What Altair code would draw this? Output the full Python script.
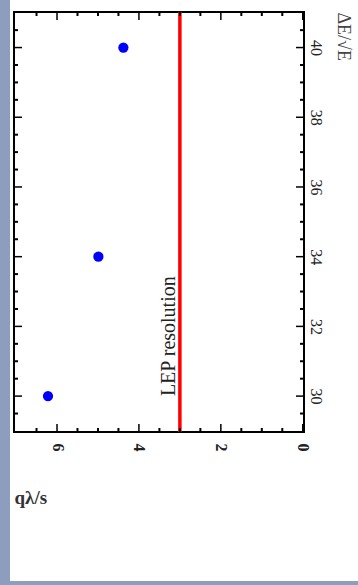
import altair as alt
import pandas as pd

# ---- data ----
de_values = [30, 34, 40]            # ΔE/√E
q_values = [6.22, 4.99, 4.38]       # qλ/s
lep_resolution = 3.0
lep_label = "LEP resolution"
lep_label_at = 30.0

x_major = [0, 2, 4, 6]
x_minor = [0.5, 1, 1.5, 2.5, 3, 3.5, 4.5, 5, 5.5, 6.5]
y_major = [30, 32, 34, 36, 38, 40]
y_minor = [29.5, 30.5, 31, 31.5, 32.5, 33, 33.5, 34.5, 35, 35.5,
           36.5, 37, 37.5, 38.5, 39, 39.5, 40.5]

X_DOMAIN = [-0.03, 7.05]
Y_DOMAIN = [28.97, 41.02]
W, H = 290, 420
SERIF = "Liberation Serif"

pts = pd.DataFrame({"q": q_values, "dE": de_values})
lep = pd.DataFrame({"q": [lep_resolution], "dE": [lep_label_at], "label": [lep_label]})

xs = alt.Scale(domain=X_DOMAIN, reverse=True, nice=False, zero=False)
ys = alt.Scale(domain=Y_DOMAIN, nice=False, zero=False)

x_axis = alt.Axis(
    orient="bottom", values=x_major, format="d", labelAngle=90, labelAlign="center",
    labelBaseline="middle", labelPadding=15, ticks=False, tickSize=0, domain=False,
    grid=False, labelFont=SERIF, labelFontSize=16, labelFontWeight="bold",
    labelColor="#222", labelFlush=False, labelOverlap=False,
    title="qλ/s", titleAngle=0, titleX=0, titleY=56, titleAlign="left",
    titleBaseline="top", titleFont=SERIF, titleFontSize=19, titleFontWeight="bold",
    titleColor="#333",
)
y_axis = alt.Axis(
    orient="right", values=y_major, format="d", labelAngle=90, labelAlign="center",
    labelBaseline="middle", labelPadding=11, ticks=False, tickSize=0, domain=False,
    grid=False, labelFont=SERIF, labelFontSize=16, labelColor="#222",
    labelFlush=False, labelOverlap=False,
    title="ΔE/√E", titleAngle=90, titleX=38, titleY=0, titleAlign="left",
    titleBaseline="middle", titleFont=SERIF, titleFontSize=18, titleFontWeight="normal",
    titleColor="#444",
)

X = lambda: alt.X("q:Q", scale=xs, axis=x_axis)
Y = lambda: alt.Y("dE:Q", scale=ys, axis=y_axis)

points = alt.Chart(pts).mark_point(
    shape="circle", filled=True, color="#0000ff", size=105, opacity=1
).encode(x=X(), y=Y())

red = alt.Chart(lep).mark_rule(color="#ff0000", strokeWidth=3.5).encode(x=X())

label = alt.Chart(lep).mark_text(
    angle=270, align="left", baseline="alphabetic", dy=-5,
    font=SERIF, fontSize=20, color="#222"
).encode(x=X(), y=Y(), text="label:N")

def xticks(vals, length, sw):
    d = pd.DataFrame({"q": vals})
    bottom = alt.Chart(d).mark_rule(color="black", strokeWidth=sw).encode(
        x=X(), y=alt.value(H), y2=alt.value(H - length))
    top = alt.Chart(d).mark_rule(color="black", strokeWidth=sw).encode(
        x=X(), y=alt.value(0), y2=alt.value(length))
    return [bottom, top]

def yticks(vals, length, sw):
    d = pd.DataFrame({"dE": vals})
    right = alt.Chart(d).mark_rule(color="black", strokeWidth=sw).encode(
        y=Y(), x=alt.value(W), x2=alt.value(W - length))
    left = alt.Chart(d).mark_rule(color="black", strokeWidth=sw).encode(
        y=Y(), x=alt.value(0), x2=alt.value(length))
    return [right, left]

one = pd.DataFrame({"k": [0]})
strip_left = alt.Chart(one).mark_rect(color="#8d9dbd", clip=False).encode(
    x=alt.value(-14), x2=alt.value(-4), y=alt.value(-12), y2=alt.value(573))
strip_bottom = alt.Chart(one).mark_rect(color="#8d9dbd", clip=False).encode(
    x=alt.value(-4), x2=alt.value(344), y=alt.value(569), y2=alt.value(573))

layers = [points, red, label]
layers += xticks(x_major, 8, 1.5) + xticks(x_minor, 4, 2)
layers += yticks(y_major, 8, 1.5) + yticks(y_minor, 4, 2)
layers += [strip_left, strip_bottom]

chart = alt.layer(*layers).properties(
    width=W, height=H,
    autosize=alt.AutoSizeParams(type="none"),
    padding={"left": 14, "top": 12, "right": 54, "bottom": 153},
    background="white",
).configure_view(stroke="black", strokeWidth=2).configure_axis(grid=False)

chart.save("out.html", embed_options={"renderer": "svg", "actions": False})
